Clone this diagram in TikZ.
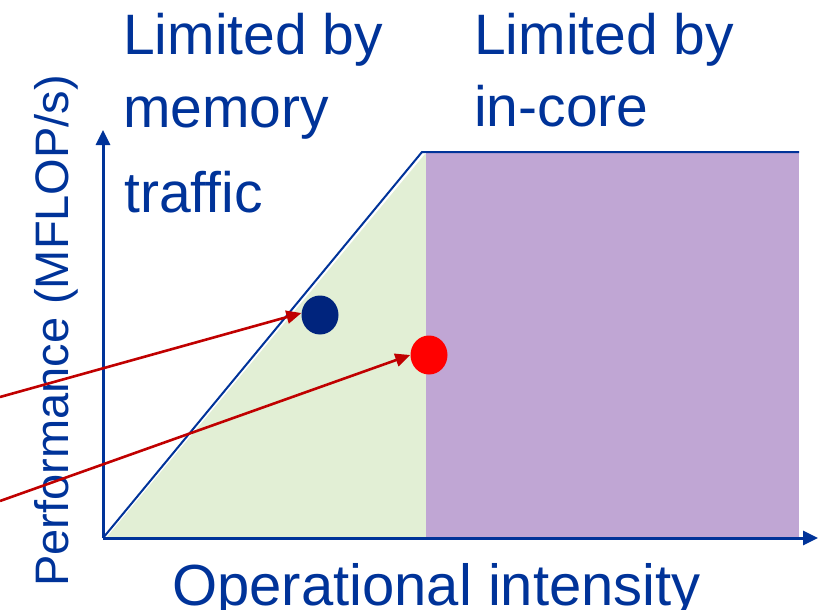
\documentclass[tikz,border=0pt]{standalone}
\usepackage{fontspec}
\setmainfont{Liberation Sans}
\usetikzlibrary{arrows.meta,shapes.geometric}
\definecolor{axisblue}{HTML}{003399}
\definecolor{txtblue}{HTML}{003399}
\definecolor{memgreen}{HTML}{E2EFD5}
\definecolor{corepurple}{HTML}{C0A6D4}
\definecolor{dotnavy}{HTML}{00247D}
\definecolor{dotred}{HTML}{FF0000}
\definecolor{arrred}{HTML}{C00000}
\tikzset{
  bigtext/.style={inner sep=0pt, anchor=base west, text=txtblue, font=\fontsize{57}{57}\selectfont},
  axistext/.style={inner sep=0pt, anchor=base west, text=txtblue, font=\fontsize{58}{58}\selectfont},
  ytext/.style={inner sep=0pt, anchor=base west, text=txtblue, rotate=90, font=\fontsize{47}{47}\selectfont},
  axisline/.style={draw=axisblue, line width=3pt, -{Triangle[length=15pt,width=14pt]}},
  roofline/.style={draw=axisblue, line width=2pt},
  dotshape/.style={ellipse, minimum width=37pt, minimum height=39pt, inner sep=0pt},
  pointer/.style={draw=arrred, line width=2.6pt, -{Triangle[length=15pt,width=13pt]}}
}
\begin{document}
\begin{tikzpicture}[x=1pt,y=-1pt]
\useasboundingbox (0,0) rectangle (820,610);
% regions
\fill[memgreen] (106,538) -- (425,154) -- (426,154) -- (426,538) -- cycle;
\fill[corepurple] (426,152) rectangle (799,537);
% roofline
\coordinate (o) at (103,538);
\coordinate (ridge) at (422,152);
\coordinate (rend) at (799,152);
\draw[roofline] (o) -- (ridge) -- (rend);
% axes
\coordinate (ytop) at (103,130);
\coordinate (xend) at (818,538);
\draw[axisline] (o) -- (ytop);
\draw[axisline] (o) -- (xend);
% labels
\node[bigtext] (l1) at (123,55) {Limited by};
\node[bigtext] (l2) at (123,128) {memory};
\node[bigtext] (l3) at (124,212) {traffic};
\node[bigtext] (r1) at (474,55) {Limited by};
\node[bigtext] (r2) at (474,127) {in-core};
\node[axistext] (xl) at (172,605) {Operational intensity};
\node[ytext] (yl) at (68,587) {Performance (MFLOP/s)};
% dots
\node[dotshape, fill=dotnavy] (bdot) at (320,315) {};
\node[dotshape, fill=dotred] (rdot) at (429,355) {};
% pointers
\coordinate (s1) at (0,397);
\coordinate (s2) at (0,501);
\draw[pointer] (s1) -- (bdot.174);
\draw[pointer] (s2) -- (rdot.west);
\end{tikzpicture}
\end{document}
